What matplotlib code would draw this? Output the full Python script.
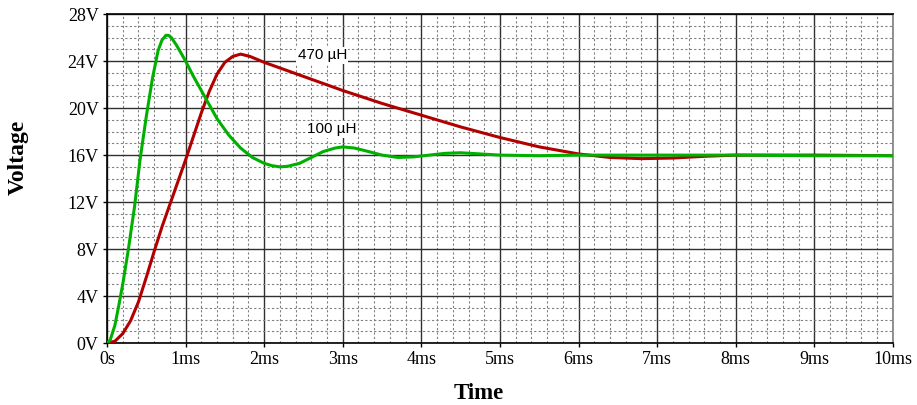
import matplotlib.pyplot as plt
import numpy as np
from matplotlib.ticker import MultipleLocator, FuncFormatter

# time in ms, voltage in V
t_100 = [0.0, 0.04, 0.1, 0.15, 0.2, 0.27, 0.35, 0.42, 0.5, 0.58, 0.65, 0.7, 0.75, 0.78,
         0.82, 0.88, 0.95, 1.0, 1.1, 1.25, 1.4, 1.55, 1.7, 1.85, 2.0, 2.1, 2.2, 2.3, 2.45,
         2.6, 2.75, 2.9, 3.0, 3.15, 3.3, 3.5, 3.7, 3.9, 4.1, 4.3, 4.5, 4.75, 5.0, 5.5,
         6.0, 7.0, 8.0, 9.0, 10.0]
v_100 = [0.0, 0.25, 1.5, 3.2, 5.0, 7.9, 11.6, 15.6, 19.3, 22.6, 24.9, 25.8, 26.2, 26.2,
         26.0, 25.4, 24.6, 24.0, 22.7, 20.9, 19.1, 17.7, 16.6, 15.8, 15.3, 15.1, 15.0, 15.05, 15.3,
         15.8, 16.3, 16.6, 16.7, 16.6, 16.35, 16.0, 15.8, 15.85, 16.0, 16.15, 16.2, 16.1, 16.0, 15.95,
         16.0, 16.0, 16.0, 15.95, 15.95]

t_470 = [0.0, 0.1, 0.2, 0.3, 0.4, 0.5, 0.6, 0.7, 0.8, 0.9, 1.0, 1.1, 1.2, 1.3, 1.4,
         1.5, 1.6, 1.7, 1.82, 2.0, 2.5, 3.0, 3.5, 4.0, 4.5, 5.0, 5.5, 6.0, 6.4, 6.8, 7.2,
         7.6, 8.0, 9.0, 10.0]
v_470 = [0.0, 0.15, 0.8, 1.9, 3.5, 5.6, 7.8, 9.9, 11.8, 13.7, 15.6, 17.6, 19.6, 21.4, 22.9,
         23.9, 24.4, 24.6, 24.4, 23.9, 22.7, 21.5, 20.4, 19.4, 18.4, 17.5, 16.7, 16.1, 15.8, 15.7, 15.75,
         15.9, 16.0, 16.0, 15.95]

x_ticks = np.arange(0, 11, 1)
y_ticks = np.arange(0, 29, 4)


def fmt_time(v, pos):
    return '0s' if v == 0 else '{:g}ms'.format(v)


fig = plt.figure(figsize=(9.17, 4.05), dpi=100)
ax = fig.add_axes([0.1167, 0.153, 0.857, 0.812])

ax.plot(t_470, v_470, color='#b00000', linewidth=2.2, zorder=3)
ax.plot(t_100, v_100, color='#00b000', linewidth=2.2, zorder=4)

ax.set_xlim(0, 10)
ax.set_ylim(0, 28)
ax.set_xticks(x_ticks)
ax.set_yticks(y_ticks)
ax.xaxis.set_minor_locator(MultipleLocator(0.2))
ax.yaxis.set_minor_locator(MultipleLocator(1))
ax.xaxis.set_major_formatter(FuncFormatter(fmt_time))
ax.yaxis.set_major_formatter(FuncFormatter(lambda v, p: '{:g}V'.format(v)))

ax.grid(which='minor', color='#808080', linestyle=(0, (2, 2)), linewidth=0.8)
ax.grid(which='major', color='#303030', linestyle='-', linewidth=1.0)
ax.set_axisbelow(True)

for side in ['left', 'bottom', 'top']:
    ax.spines[side].set_color('black')
    ax.spines[side].set_linewidth(1.2)
ax.spines['right'].set_color('#808080')
ax.spines['right'].set_linewidth(1.2)

ax.tick_params(which='major', length=3, width=1, direction='out', pad=3,
               labelsize=13, labelfontfamily='Liberation Serif')
ax.tick_params(which='minor', length=0)

ax.set_xlabel('Time', fontsize=16.5, fontweight='bold', family='Liberation Serif')
ax.set_ylabel('Voltage', fontsize=17, fontweight='bold', family='Liberation Serif')
ax.xaxis.set_label_coords(0.473, -0.122)
ax.yaxis.set_label_coords(-0.10, 0.565)

ax.text(2.74, 24.5, '470 µH', fontsize=11, family='Liberation Sans', ha='center', va='center',
        bbox=dict(facecolor='white', edgecolor='none', pad=1), zorder=5)
ax.text(2.86, 18.2, '100 µH', fontsize=11, family='Liberation Sans', ha='center', va='center',
        bbox=dict(facecolor='white', edgecolor='none', pad=1), zorder=5)

fig.savefig('out.png', dpi=100)
